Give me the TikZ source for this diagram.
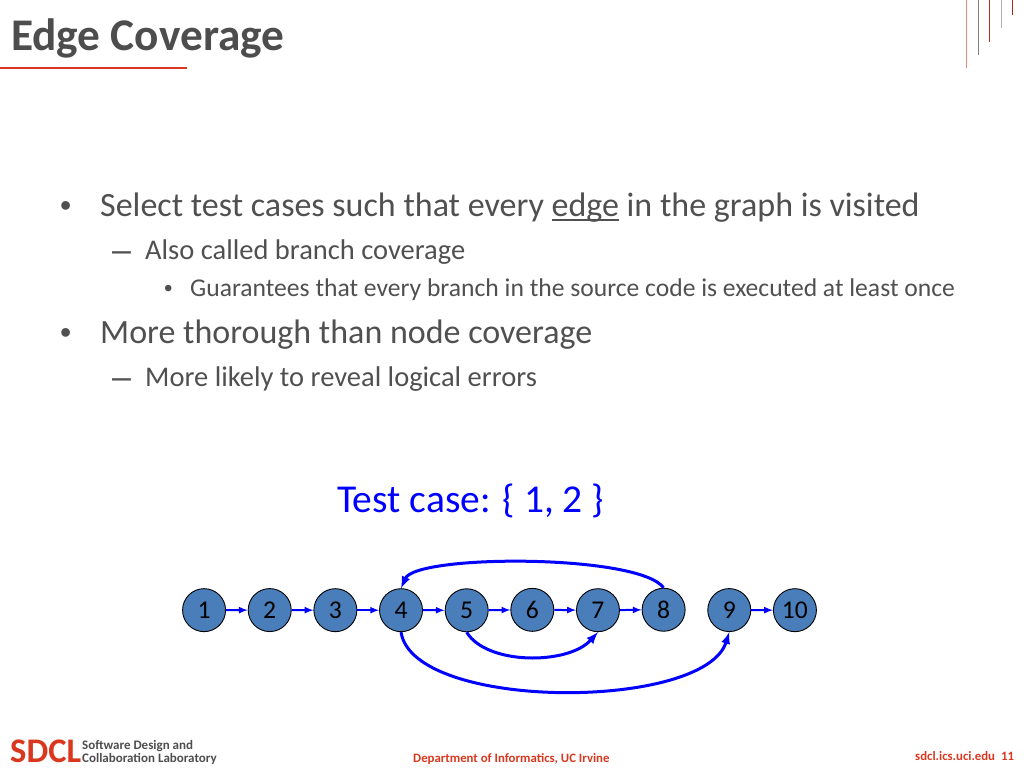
\documentclass[tikz,border=0pt]{standalone}
\usepackage{fontspec}
\setmainfont{Carlito}
\newfontfamily\bulletfont{Liberation Sans}
\usetikzlibrary{arrows,matrix}
\definecolor{titlegray}{HTML}{4D4D4D}
\definecolor{bodygray}{HTML}{505050}
\definecolor{sdclred}{HTML}{D9381E}
\definecolor{nodeblue}{HTML}{4A7EBB}
\newcommand\edgeul[1]{\setbox0\hbox{#1}\rlap{\rule[-5pt]{\wd0}{2pt}}#1}
\tikzset{
  txt/.style={anchor=base west,inner sep=0pt,text=bodygray},
  level1/.style={txt,font=\fontsize{34}{40}\selectfont},
  level2/.style={txt,font=\fontsize{28.5}{34}\selectfont},
  level3/.style={txt,font=\fontsize{25.6}{30}\selectfont},
  mark1/.style={txt,font=\bulletfont\fontsize{32}{38}\selectfont},
  mark2/.style={txt,font=\bulletfont\fontsize{34}{38}\selectfont},
  mark3/.style={txt,font=\bulletfont\fontsize{24}{29}\selectfont},
  foot/.style={anchor=base west,inner sep=0pt,text=sdclred,font=\bfseries\fontsize{12.8}{15}\selectfont},
  lab/.style={anchor=base west,inner sep=0pt,text=titlegray,font=\bfseries\fontsize{13}{15}\selectfont},
  graphnode/.style={circle,draw=black,line width=0.9pt,fill=nodeblue,minimum size=43,inner sep=0pt,text=black,font=\fontsize{25.6}{30}\selectfont},
  stepedge/.style={-latex,blue,line width=2pt},
  loopedge/.style={-latex,blue,line width=3pt},
}
\begin{document}
\begin{tikzpicture}[x=1pt,y=-1pt,ampersand replacement=\&]
  \useasboundingbox (0,0) rectangle (1024,768);
  \node[anchor=base west,inner sep=0pt,text=titlegray,font=\bfseries\fontsize{45.3}{54}\selectfont] (title) at (11,50) {Edge Coverage};
  \draw[sdclred,line width=1.5pt] (0,68) -- (187,68);
  \draw[sdclred!60,line width=1pt] (966.5,0) -- (966.5,68);
  \draw[gray,line width=1pt] (978,0) -- (978,55);
  \draw[sdclred!80!black,line width=1pt] (989.5,0) -- (989.5,42);
  \draw[gray!60,line width=1pt] (1001,0) -- (1001,28);
  \draw[sdclred!80!black,line width=1pt] (1012,0) -- (1012,15);

  \node[mark1] (b1) at (60,216) {•};
  \node[level1] (t1) at (100,216) {Select test cases such that every \edgeul{edge} in the graph is visited};
  \node[mark2] (b2) at (112,261) {–};
  \node[level2] (t2) at (145,259) {Also called branch coverage};
  \node[mark3] (b3) at (164,296) {•};
  \node[level3] (t3) at (190,296) {Guarantees that every branch in the source code is executed at least once};
  \node[mark1] (b4) at (60,343) {•};
  \node[level1] (t4) at (100,343) {More thorough than node coverage};
  \node[mark2] (b5) at (112,388) {–};
  \node[level2] (t5) at (145,386) {More likely to reveal logical errors};

  \node[anchor=base west,inner sep=0pt,text=blue,font=\fontsize{39.5}{46}\selectfont] (testcase) at (337,512) {Test case: \{ 1, 2 \}};

  \matrix (g)[
    matrix of nodes,
    nodes={graphnode},
    column sep=21.75,
  ] at (499.5,610) {
    1 \& 2 \& 3 \& 4 \& 5 \& 6 \& 7 \& 8 \& 9 \& 10 \\
  } ;

  \foreach \a/\b in {1/2,2/3,3/4,4/5,5/6,6/7,7/8,9/10}
    \draw[stepedge] (g-1-\a) -- (g-1-\b);
  \draw[loopedge] (g-1-8.north) .. controls +(-25,-34) and +(15,-34) .. (g-1-4.north);
  \draw[loopedge] (g-1-5.south) .. controls +(20,33) and +(-30,33) .. (g-1-7.south);
  \draw[loopedge] (g-1-4.south) .. controls +(12,79) and +(-25,79) .. (g-1-9.south);

  \node[anchor=base west,inner sep=0pt,text=sdclred,font=\bfseries\fontsize{34.5}{38}\selectfont] (sdcl) at (10,762) {SDCL};
  \node[lab] (sdcl1) at (82,749) {Software Design and};
  \node[lab] (sdcl2) at (82,762) {Collaboration Laboratory};
  \node[foot] (dept) at (413,762) {Department of Informatics, UC Irvine};
  \node[foot] (site) at (915,760) {sdcl.ics.uci.edu\hspace{6pt}11};
\end{tikzpicture}
\end{document}
